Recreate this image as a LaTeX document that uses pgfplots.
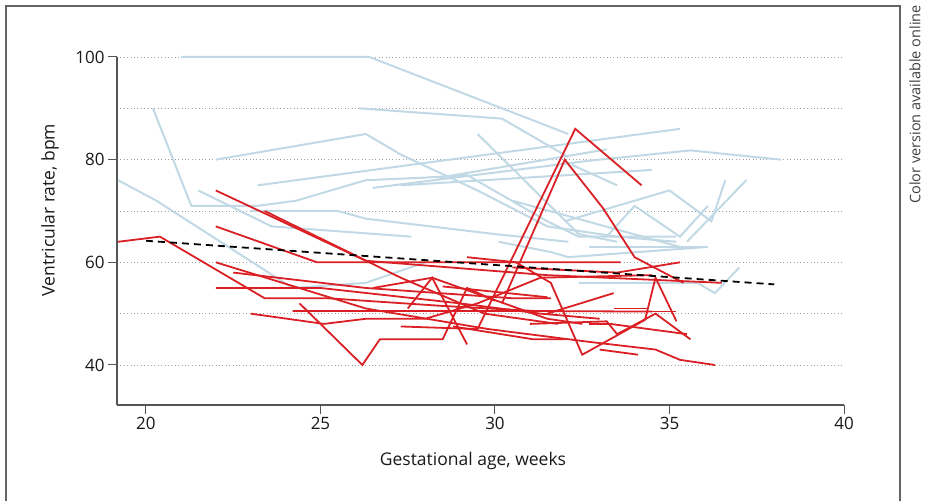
\documentclass[border=0pt]{standalone}
\usepackage{fontspec}
\setmainfont{Open Sans}
\usepackage{pgfplots}
\pgfplotsset{compat=1.18}
\definecolor{cBlue}{RGB}{193,217,229}
\definecolor{cRed}{RGB}{218,32,36}
\definecolor{cAxis}{RGB}{85,85,85}
\definecolor{cFrame}{RGB}{100,100,100}

\begin{document}
\begin{tikzpicture}[x=1pt,y=1pt]
\path (0,0) rectangle (925,501);
% outer frame (open at the bottom)
\draw[cFrame, line width=1.5pt] (6,0) -- (6,495) -- (900,495) -- (900,0);
\node[rotate=90, anchor=east, inner sep=0pt, text=black!75,
      font=\fontsize{14.5}{16}\selectfont] at (915,496) {Color version available online};

\begin{axis}[
    at={(117pt,96pt)}, anchor=south west,
    scale only axis, width=727pt, height=348pt,
    xmin=19.17, xmax=40, ymin=32.2, ymax=100,
    axis lines=left,
    axis line style={-, cAxis, line width=1.4pt},
    tick style={cAxis, line width=1pt},
    tick align=outside, major tick length=9pt, minor tick length=0pt,
    xtick={20,25,30,35,40}, ytick={40,60,80,100},
    minor ytick={50,70,90},
    ymajorgrids, yminorgrids,
    grid style={gray!75, line width=0.8pt, dash pattern=on 0.8pt off 2.6pt},
    minor grid style={gray!75, line width=0.8pt, dash pattern=on 0.8pt off 2.6pt},
    /pgf/number format/assume math mode=true,
    ticklabel style={font=\fontsize{17}{19}\selectfont, text=black!90},
    clip=false,
    sBlue/.style={cBlue, line width=2pt},
    sRed/.style={cRed, line width=1.8pt},
]
% --- light blue series
\addplot[sBlue] coordinates {(21.0,100) (26.4,100) (32.1,85)};
\addplot[sBlue] coordinates {(26.1,90) (30.2,88) (32.1,80.5)};
\addplot[sBlue] coordinates {(23.2,75) (35.3,86)};
\addplot[sBlue] coordinates {(22,80) (26.3,85) (27.3,81) (29.5,74) (31.5,67) (33.5,65) (35.2,64)};
\addplot[sBlue] coordinates {(19.2,76) (20.3,72) (24.2,55) (26.3,56) (28,60)};
\addplot[sBlue] coordinates {(21.5,74) (23.6,67) (27.6,65)};
\addplot[sBlue] coordinates {(23,70) (25.5,70) (26.3,68.5) (30,65.5) (32.1,64)};
\addplot[sBlue] coordinates {(20.2,90) (21.3,71) (23.2,71) (24.3,72) (26.3,76) (28.0,76.5) (29.2,77) (31.5,68) (32.4,65) (35.2,65)};
\addplot[sBlue] coordinates {(29.5,85) (32.4,65.5) (33.5,64)};
\addplot[sBlue] coordinates {(28.4,76.5) (33.2,82)};
\addplot[sBlue] coordinates {(27.3,75) (34.5,78)};
\addplot[sBlue] coordinates {(30.5,72) (35.3,63)};
\addplot[sBlue] coordinates {(32,68) (35,74) (36.2,68) (36.6,76)};
\addplot[sBlue] coordinates {(33.2,65) (34,71) (35.3,65) (36.1,71)};
\addplot[sBlue] coordinates {(35.5,64) (37.2,76)};
\addplot[sBlue] coordinates {(32.7,63) (36.1,63)};
\addplot[sBlue] coordinates {(32.4,56) (35.8,56) (36.3,54) (37,59)};
\addplot[sBlue] coordinates {(30.1,64) (31.6,62) (32.1,61) (36.1,63)};
\addplot[sBlue] coordinates {(26.5,74.5) (32.7,79.8) (35.6,81.8) (38.2,80)};
\addplot[sBlue] coordinates {(32.2,79) (33.5,75)};
% --- red series
\addplot[sRed] coordinates {(19.2,64) (20.4,65) (23.4,53) (25.2,53) (28.5,51.5) (31.2,50.5)};
\addplot[sRed] coordinates {(22,74) (26.3,60.3) (31.5,57.5) (36.5,56)};
\addplot[sRed] coordinates {(23.4,70) (27.3,57) (29.7,50) (31.8,48)};
\addplot[sRed] coordinates {(22,67) (24.9,60) (33.6,60)};
\addplot[sRed] coordinates {(22,60) (26.3,51) (29.8,47) (32.7,44.5) (34.6,43) (35.3,41) (36.3,40)};
\addplot[sRed] coordinates {(22.5,58) (26.3,55) (30.5,53) (31.6,53)};
\addplot[sRed] coordinates {(22,55) (25,55) (29,52) (31.3,50) (33,49)};
\addplot[sRed] coordinates {(23,50) (25.1,48) (26.3,49) (28,49) (29.5,52) (31.3,57) (34.5,57.5)};
\addplot[sRed] coordinates {(24.4,52) (26.2,40) (26.7,45) (28.5,45) (29.2,55) (30,52.5)};
\addplot[sRed] coordinates {(27.3,47.5) (29.5,47) (32.3,86) (34.2,75)};
\addplot[sRed] coordinates {(30.2,52) (32,80) (33.1,70.5) (34,61) (35.4,56)};
\addplot[sRed] coordinates {(27.5,51) (28.2,57) (29.2,44)};
\addplot[sRed] coordinates {(26.5,55) (28.2,57) (31.5,49) (32.5,48)};
\addplot[sRed] coordinates {(29.2,61) (30.6,60) (31.6,56) (32.5,42) (34.3,48.8) (34.6,57) (35.2,48.5)};
\addplot[sRed] coordinates {(30.5,59) (33.5,58) (35.3,60)};
\addplot[sRed] coordinates {(33.4,51) (34.4,51)};
\addplot[sRed] coordinates {(33.4,50.4) (35.2,50.4)};
\addplot[sRed] coordinates {(31.5,50) (33.4,54)};
\addplot[sRed] coordinates {(32.7,48) (33.3,48) (35.5,46)};
\addplot[sRed] coordinates {(31,48) (33.2,48.5) (33.5,46) (34.6,50) (35.6,45)};
\addplot[sRed] coordinates {(33,43) (34.1,42)};
\addplot[sRed] coordinates {(28.8,47.5) (31.1,45) (32,45)};
\addplot[sRed] coordinates {(24.2,50.5) (31.5,50.5) (34.5,50.4)};
\addplot[sRed] coordinates {(28.5,55.3) (31.5,53.2)};
% --- trend
\addplot[black, line width=1.8pt, dash pattern=on 7pt off 5pt] coordinates {(20,64.2) (38,55.7)};
\end{axis}

\node[font=\fontsize{17.5}{19}\selectfont, text=black!90] at (473,40) {Gestational age, weeks};
\node[rotate=90, font=\fontsize{17.5}{19}\selectfont, text=black!90] at (50,291) {Ventricular rate, bpm};
\end{tikzpicture}
\end{document}
